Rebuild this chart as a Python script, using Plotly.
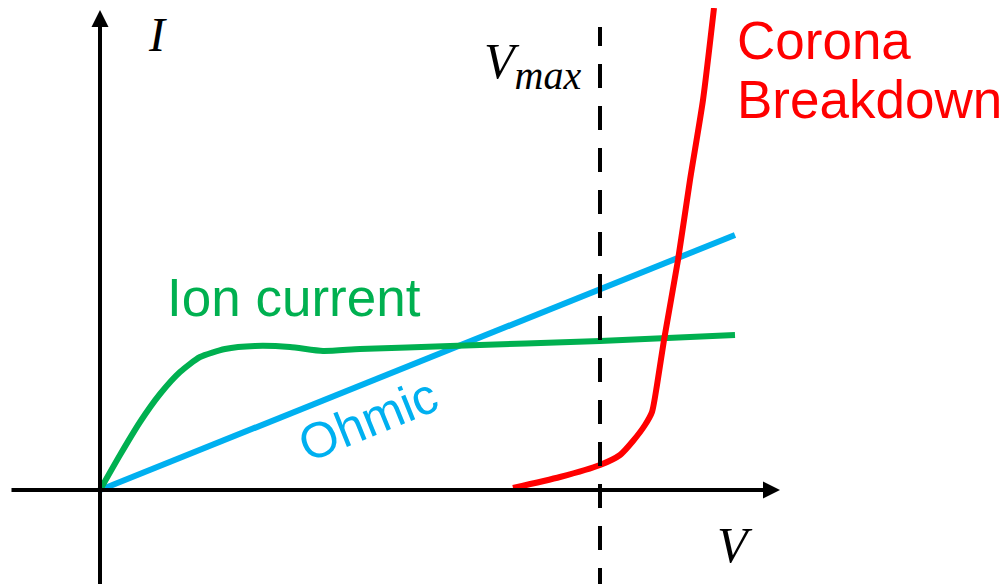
import plotly.graph_objects as go

# Schematic I-V curves (data units: voltage V, current I; origin at axes crossing)
ohmic_v = [0, 635]
ohmic_i = [0, 255]

ion_v = [0, 20, 40, 60, 80, 100, 125, 155, 190, 223, 260, 350, 500, 635]
ion_i = [0, 35, 68, 96, 118, 133, 141, 144, 143, 139, 141, 144, 149, 155]

corona_v = [413, 460, 500, 520, 533, 545, 552, 557, 564, 578, 590, 603, 614]
corona_i = [2, 13, 25, 35, 49, 65, 78, 105, 150, 230, 310, 390, 482]

v_max = 500

# view extents (page body adds an 8px offset)
x_min, x_max = -92, 916
y_min, y_max = -102, 482
x_axis_start, x_axis_tip = -90, 680
y_axis_start, y_axis_tip = -102, 480
vmax_top = 463

GREEN = "#00B050"
CYAN = "#00B0F0"
RED = "#FF0000"

fig = go.Figure()
fig.add_trace(go.Scatter(x=ohmic_v, y=ohmic_i, mode="lines",
                         line=dict(color=CYAN, width=6), hoverinfo="skip"))
fig.add_trace(go.Scatter(x=ion_v, y=ion_i, mode="lines",
                         line=dict(color=GREEN, width=6, shape="spline", smoothing=0.6),
                         hoverinfo="skip"))
fig.add_trace(go.Scatter(x=corona_v, y=corona_i, mode="lines",
                         line=dict(color=RED, width=6, shape="spline", smoothing=0.6),
                         hoverinfo="skip"))

# V_max dashed line
fig.add_shape(type="line", x0=v_max, x1=v_max, y0=y_min, y1=vmax_top,
              line=dict(color="black", width=4, dash="24px,18px"), layer="above")

# axes with arrows
fig.add_annotation(x=x_axis_tip, y=0, ax=x_axis_start, ay=0, axref="x", ayref="y",
                   text="", showarrow=True, arrowhead=2, arrowsize=0.85,
                   arrowwidth=4, arrowcolor="black")
fig.add_annotation(x=0, y=y_axis_tip, ax=0, ay=y_axis_start, axref="x", ayref="y",
                   text="", showarrow=True, arrowhead=2, arrowsize=0.85,
                   arrowwidth=4, arrowcolor="black")

serif = "Liberation Serif"
sans = "Liberation Sans"
fig.add_annotation(x=57, y=456, text="<i>I</i>", showarrow=False, borderpad=0,
                   font=dict(family=serif, size=48, color="black"))
fig.add_annotation(x=635, y=-55, text="<i>V</i>", showarrow=False,
                   font=dict(family=serif, size=50, color="black"))
fig.add_annotation(x=432, y=425,
                   text="<i>V<sub><span style='font-size:40px'>max</span></sub></i>",
                   showarrow=False,
                   font=dict(family=serif, size=50, color="black"))
fig.add_annotation(x=635, y=450, text="Corona", showarrow=False, xanchor="left",
                   font=dict(family=sans, size=53, color=RED))
fig.add_annotation(x=635, y=391, text="Breakdown", showarrow=False, xanchor="left",
                   font=dict(family=sans, size=53, color=RED))
fig.add_annotation(x=194, y=193, text="Ion current", showarrow=False,
                   font=dict(family=sans, size=53, color=GREEN))
fig.add_annotation(x=268, y=70, text="Ohmic", showarrow=False, textangle=-22,
                   font=dict(family=sans, size=50, color=CYAN))

fig.update_layout(
    width=1008, height=584,
    margin=dict(l=0, r=0, t=0, b=0),
    paper_bgcolor="white", plot_bgcolor="white",
    showlegend=False,
    xaxis=dict(range=[x_min, x_max], visible=False, fixedrange=True),
    yaxis=dict(range=[y_min, y_max], visible=False, fixedrange=True),
)

fig.write_html("out.html")
